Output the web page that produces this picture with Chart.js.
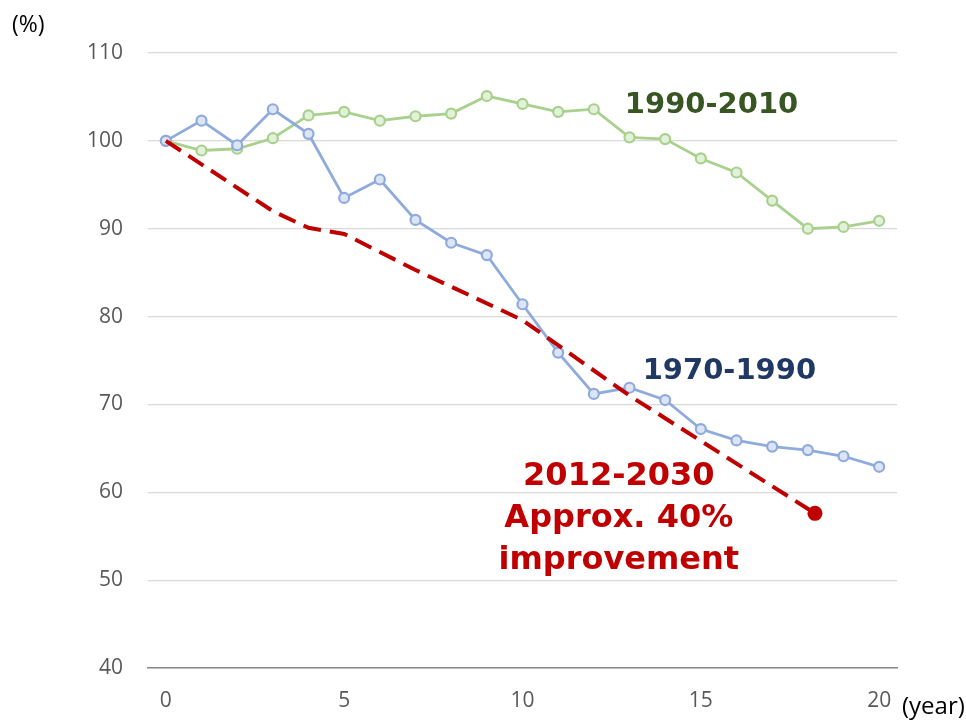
<!DOCTYPE html>
<html>
<head>
<meta charset="utf-8">
<script src="https://cdn.jsdelivr.net/npm/chart.js@4.4.1/dist/chart.umd.min.js"></script>
<style>
  html, body { margin: 0; padding: 0; background: #fff; }
  #wrap { width: 966px; height: 720px; position: relative; }
</style>
</head>
<body>
<div id="wrap"><canvas id="chart" width="966" height="720"></canvas></div>
<script>
// Data
const years = [0, 1, 2, 3, 4, 5, 6, 7, 8, 9, 10, 11, 12, 13, 14, 15, 16, 17, 18, 19, 20];
const s1970 = [100, 102.3, 99.5, 103.6, 100.8, 93.5, 95.6, 91.0, 88.4, 87.0, 81.4, 75.9, 71.2, 71.9, 70.5, 67.2, 65.9, 65.2, 64.8, 64.1, 62.9];
const s1990 = [100, 98.9, 99.1, 100.3, 102.9, 103.3, 102.3, 102.8, 103.1, 105.1, 104.2, 103.3, 103.6, 100.4, 100.2, 98.0, 96.4, 93.2, 90.0, 90.2, 90.9];
const targetX = [0, 3, 4, 5, 7, 10, 13, 18.2];
const targetY = [100, 92.0, 90.1, 89.4, 85.3, 79.6, 71.0, 57.6];
const xTicks = [0, 5, 10, 15, 20];
const yTicks = [40, 50, 60, 70, 80, 90, 100, 110];

const toPoints = (xs, ys) => xs.map((x, i) => ({ x: x, y: ys[i] }));

// Text labels placed in data space
const notes = [
  { lines: ['1990-2010'], x: 15.3, y: 104.0, color: '#375623', size: 29 },
  { lines: ['1970-1990'], x: 15.8, y: 73.7, color: '#1F3864', size: 29 },
  { lines: ['2012-2030', 'Approx. 40%', 'improvement'], x: 12.7, y: 61.8, color: '#C00000', size: 32, gap: 42 },
];

const notesPlugin = {
  id: 'notes',
  afterDatasetsDraw(chart) {
    const ctx = chart.ctx;
    const xs = chart.scales.x, ys = chart.scales.y;
    ctx.save();
    ctx.textAlign = 'center';
    ctx.textBaseline = 'middle';
    notes.forEach(n => {
      ctx.font = 'bold ' + n.size + 'px "DejaVu Sans", Verdana, sans-serif';
      ctx.fillStyle = n.color;
      const px = xs.getPixelForValue(n.x);
      const py = ys.getPixelForValue(n.y);
      n.lines.forEach((t, i) => ctx.fillText(t, px, py + i * (n.gap || 0)));
    });
    // axis unit labels
    ctx.fillStyle = '#000';
    ctx.font = '23px "Open Sans", sans-serif';
    ctx.textAlign = 'left';
    ctx.fillText('(%)', 12, 25);
    ctx.font = '24px "Liberation Sans Narrow", "Open Sans", sans-serif';
    ctx.fillText('(year)', 902, 707);
    ctx.restore();
  }
};

const markerSizes = targetX.map((x, i) => i === targetX.length - 1 ? 7.5 : 0);

new Chart(document.getElementById('chart'), {
  type: 'line',
  data: {
    datasets: [
      {
        label: '1970-1990',
        data: toPoints(years, s1970),
        borderColor: '#8FAADC',
        backgroundColor: '#DCE5F5',
        borderWidth: 2.8,
        pointRadius: 5,
        pointBorderWidth: 2.2,
        pointBorderColor: '#8FAADC',
        pointBackgroundColor: '#DCE5F5',
        tension: 0,
        order: 2,
      },
      {
        label: '1990-2010',
        data: toPoints(years, s1990),
        borderColor: '#A9D18E',
        backgroundColor: '#E3F0DA',
        borderWidth: 2.8,
        pointRadius: 5,
        pointBorderWidth: 2.2,
        pointBorderColor: '#A9D18E',
        pointBackgroundColor: '#E3F0DA',
        tension: 0,
        order: 3,
      },
      {
        label: '2012-2030',
        data: toPoints(targetX, targetY),
        borderColor: '#C00000',
        backgroundColor: '#C00000',
        borderWidth: 4,
        borderDash: [18, 9],
        pointRadius: markerSizes,
        pointBorderWidth: 0,
        pointBackgroundColor: '#C00000',
        tension: 0,
        order: 1,
      },
    ],
  },
  options: {
    responsive: false,
    animation: false,
    layout: { padding: { top: 53, right: 69, left: 0, bottom: 0 } },
    plugins: {
      legend: { display: false },
      tooltip: { enabled: false },
    },
    scales: {
      x: {
        type: 'linear',
        min: -0.5,
        max: 20.5,
        afterBuildTicks: s => { s.ticks = xTicks.map(v => ({ value: v })); },
        afterFit: s => { s.height = 52; },
        grid: { display: false, drawTicks: false },
        border: { display: true, color: '#898989', width: 1.5 },
        ticks: {
          color: '#595959',
          padding: 20,
          maxRotation: 0,
          font: { family: '"Open Sans", sans-serif', size: 21 },
        },
      },
      y: {
        min: 40,
        max: 110,
        afterBuildTicks: s => { s.ticks = yTicks.map(v => ({ value: v })); },
        afterFit: s => { s.width = 148; },
        grid: { color: '#D9D9D9', lineWidth: 1.2, drawTicks: false },
        border: { display: false },
        ticks: {
          color: '#595959',
          padding: 25,
          font: { family: '"Open Sans", sans-serif', size: 21 },
        },
      },
    },
  },
  plugins: [notesPlugin],
});
</script>
</body>
</html>
